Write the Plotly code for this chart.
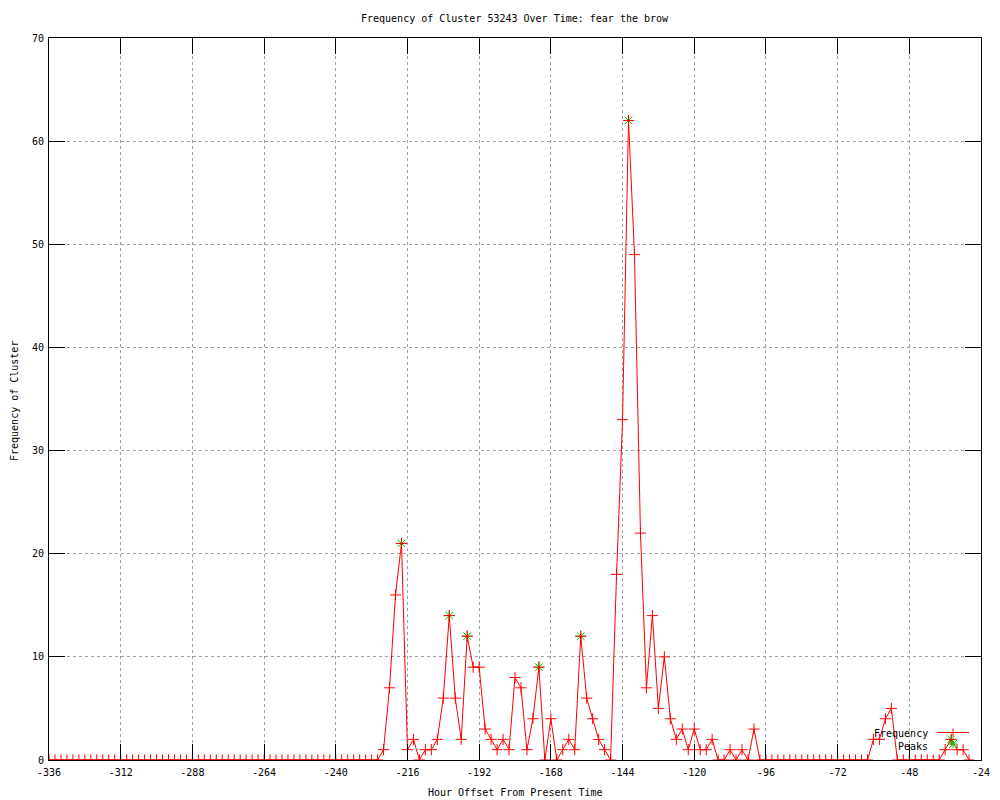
import plotly.graph_objects as go

# ---------------- data ----------------
hours = [
    -336, -334, -332, -330, -328, -326, -324, -322, -320, -318, -316, -314,
    -312, -310, -308, -306, -304, -302, -300, -298, -296, -294, -292, -290,
    -288, -286, -284, -282, -280, -278, -276, -274, -272, -270, -268, -266,
    -264, -262, -260, -258, -256, -254, -252, -250, -248, -246, -244, -242,
    -240, -238, -236, -234, -232, -230, -228, -226, -224, -222, -220, -218,
    -216, -214, -212, -210, -208, -206, -204, -202, -200, -198, -196, -194,
    -192, -190, -188, -186, -184, -182, -180, -178, -176, -174, -172, -170,
    -168, -166, -164, -162, -160, -158, -156, -154, -152, -150, -148, -146,
    -144, -142, -140, -138, -136, -134, -132, -130, -128, -126, -124, -122,
    -120, -118, -116, -114, -112, -110, -108, -106, -104, -102, -100, -98,
    -96, -94, -92, -90, -88, -86, -84, -82, -80, -78, -76, -74,
    -72, -70, -68, -66, -64, -62, -60, -58, -56, -54, -52, -50,
    -48, -46, -44, -42, -40, -38, -36, -34, -32, -30, -28,
]
frequency = [
    0, 0, 0, 0, 0, 0, 0, 0, 0, 0, 0, 0,
    0, 0, 0, 0, 0, 0, 0, 0, 0, 0, 0, 0,
    0, 0, 0, 0, 0, 0, 0, 0, 0, 0, 0, 0,
    0, 0, 0, 0, 0, 0, 0, 0, 0, 0, 0, 0,
    0, 0, 0, 0, 0, 0, 0, 0, 1, 7, 16, 21,
    1, 2, 0, 1, 1, 2, 6, 14, 6, 2, 12, 9,
    9, 3, 2, 1, 2, 1, 8, 7, 1, 4, 9, 0,
    4, 0, 1, 2, 1, 12, 6, 4, 2, 1, 0, 18,
    33, 62, 49, 22, 7, 14, 5, 10, 4, 2, 3, 1,
    3, 1, 1, 2, 0, 0, 1, 0, 1, 0, 3, 0,
    0, 0, 0, 0, 0, 0, 0, 0, 0, 0, 0, 0,
    0, 0, 0, 0, 0, 0, 2, 2, 4, 5, 0, 0,
    0, 0, 0, 0, 0, 0, 1, 2, 1, 1, 0,
]
peak_hours = [-218, -202, -196, -172, -158, -142, -34]
peak_values = [21, 14, 12, 9, 12, 62, 2]

x_tick_vals = [-336, -312, -288, -264, -240, -216, -192, -168, -144, -120, -96, -72, -48, -24]
x_tick_text = ["-336", "-312", "-288", "-264", "-240", "-216", "-192", "-168",
               "-144", "-120", "-96", "-72", "-48", "-24"]
y_tick_vals = [0, 10, 20, 30, 40, 50, 60, 70]

title_text = "Frequency of Cluster 53243 Over Time: fear the brow"
x_title = "Hour Offset From Present Time"
y_title = "Frequency of Cluster"
legend_labels = ["Frequency", "Peaks"]

RED = "#ff0000"
GREEN = "#00c000"
FONT = "DejaVu Sans Mono"
TXT = dict(family=FONT, size=10, color="black")

# page-pixel geometry of the plot frame (page has an 8px body margin)
OFF = 8
PL, PR, PT, PB = 49, 981, 38, 760
FIG_W, FIG_H = 1000 - OFF, 800 - OFF


def px(xp):
    return (xp - PL) / (PR - PL)


def py(yp):
    return (PB - yp) / (PB - PT)


# ---------------- figure ----------------
fig = go.Figure()

fig.add_trace(go.Scatter(
    x=peak_hours, y=peak_values, mode="markers", name=legend_labels[1],
    marker=dict(symbol="asterisk-open", size=9, color=GREEN,
                line=dict(color=GREEN, width=1)),
    showlegend=False, cliponaxis=True,
))
fig.add_trace(go.Scatter(
    x=hours, y=frequency, mode="lines+markers", name=legend_labels[0],
    line=dict(color=RED, width=1),
    marker=dict(symbol="cross-thin-open", size=8, color=RED,
                line=dict(color=RED, width=1)),
    showlegend=False, cliponaxis=True,
))

axis_common = dict(
    showline=True, linecolor="black", linewidth=1, mirror="allticks",
    ticks="inside", ticklen=16, tickcolor="black", tickwidth=1,
    showgrid=True, gridcolor="#a0a0a0", griddash="dot", gridwidth=1,
    zeroline=False, tickfont=TXT, automargin=False, layer="above traces",
)

fig.update_xaxes(range=[-336, -24], tickvals=x_tick_vals, ticktext=x_tick_text,
                 ticklabelstandoff=3, **axis_common)
fig.update_yaxes(range=[0, 70], tickvals=y_tick_vals, ticklabelstandoff=2,
                 **axis_common)

annotations = [
    dict(x=0.5, y=py(793), xref="paper", yref="paper", text=x_title,
         showarrow=False, xanchor="center", yanchor="middle", font=TXT),
    dict(x=px(14), y=py(401), xref="paper", yref="paper", text=y_title,
         showarrow=False, xanchor="center", yanchor="middle", textangle=-90, font=TXT),
    dict(x=0.5, y=py(19), xref="paper", yref="paper", text=title_text,
         showarrow=False, xanchor="center", yanchor="middle", font=TXT),
    # gnuplot-style key: text on the left, sample on the right
    dict(x=px(930), y=py(733), xref="paper", yref="paper", text=legend_labels[0],
         showarrow=False, xanchor="right", yanchor="middle", font=TXT),
    dict(x=px(930), y=py(746), xref="paper", yref="paper", text=legend_labels[1],
         showarrow=False, xanchor="right", yanchor="middle", font=TXT),
]
shapes = [
    dict(type="line", xref="paper", yref="paper", x0=px(937), x1=px(969),
         y0=py(732.5), y1=py(732.5), line=dict(color=RED, width=1)),
    dict(type="line", xref="paper", yref="paper", x0=px(953), x1=px(953),
         y0=py(728.5), y1=py(736.5), line=dict(color=RED, width=1)),
]
cx, cy, h = 953, 744, 4
for (dx0, dy0, dx1, dy1) in [(-h, -h, h, h), (-h, h, h, -h), (-h, 0, h, 0), (0, -h, 0, h)]:
    shapes.append(dict(type="line", xref="paper", yref="paper",
                       x0=px(cx + dx0), y0=py(cy + dy0), x1=px(cx + dx1), y1=py(cy + dy1),
                       line=dict(color=GREEN, width=1)))

fig.update_layout(
    width=FIG_W, height=FIG_H,
    margin=dict(l=PL - OFF, r=FIG_W - (PR - OFF), t=PT - OFF, b=FIG_H - (PB - OFF),
                autoexpand=False),
    paper_bgcolor="white", plot_bgcolor="white",
    annotations=annotations, shapes=shapes,
    showlegend=False,
)

fig.write_html("out.html")
